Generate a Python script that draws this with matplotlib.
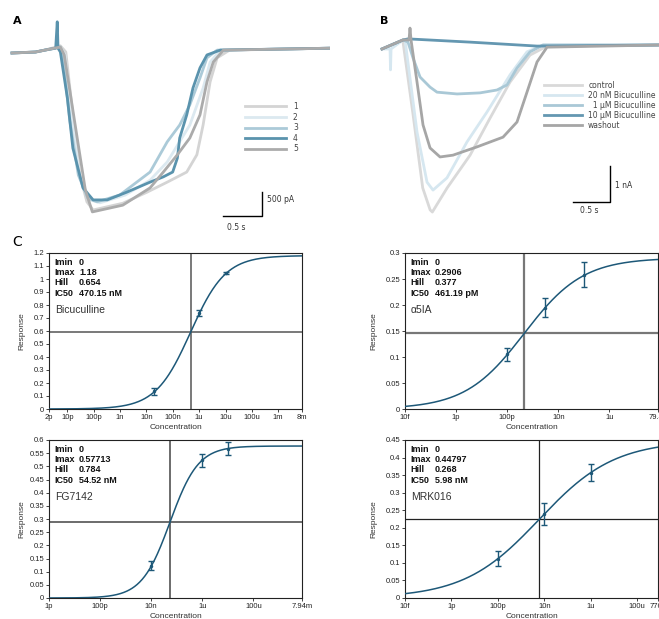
import numpy as np
import matplotlib
matplotlib.use('Agg')
import matplotlib.pyplot as plt
from matplotlib import font_manager
from matplotlib.ticker import FixedLocator, FixedFormatter, FuncFormatter

# ---------------- panel A : five repeats (t in s, I in pA)
a_labels = ['1', '2', '3', '4', '5']
a_colors = ['#d4d4d4', '#dce9f0', '#abcad8', '#5a93ad', '#ababab']

a1_t = [0, .30, .42, .62, .69, .78, .87, .96, 1.04, 1.42, 1.73, 1.99, 2.24, 2.37, 2.45, 2.54, 2.63, 2.79, 4.08]
a1_i = [0, 20, 60, 150, 20, -1290, -2540, -3100, -3270, -3130, -2900, -2690, -2480, -2120, -1500, -600, -100, 60, 100]
a2_t = [0, .30, .42, .62, .68, .77, .87, 1.00, 1.13, 1.45, 1.77, 1.99, 2.28, 2.45, 2.54, 2.67, 4.08]
a2_i = [0, 20, 60, 125, -40, -1400, -2600, -3060, -3120, -2960, -2650, -2270, -1500, -730, -190, 60, 100]
a3_t = [0, .30, .42, .62, .65, .74, .85, .97, 1.09, 1.38, 1.77, 1.99, 2.15, 2.28, 2.41, 2.50, 2.63, 4.08]
a3_i = [0, 20, 60, 125, -40, -1400, -2540, -3020, -3100, -2960, -2480, -1850, -1500, -1080, -520, -100, 60, 100]
a4_t = [0, .30, .42, .56, .58, .59, .62, .71, .78, .91, 1.04, 1.22, 1.47, 1.77, 1.94, 2.06, 2.12, 2.15, 2.24,
        2.32, 2.41, 2.50, 2.67, 4.08]
a4_i = [0, 20, 60, 100, 650, 100, 20, -940, -1980, -2810, -3060, -3060, -2900, -2690, -2580, -2480, -2190,
        -1770, -1290, -730, -310, -40, 60, 100]
a5_t = [0, .30, .42, .62, .67, .81, .94, 1.03, 1.42, 1.77, 1.94, 2.12, 2.28, 2.41, 2.50, 2.58, 2.71, 4.08]
a5_i = [0, 20, 60, 125, -40, -1500, -2850, -3310, -3170, -2810, -2480, -2120, -1770, -1290, -600, -190, 60, 100]

# ---------------- panel B : bicuculline series (t in s, I in nA)
b_labels = ['control', '20 nM Bicuculline', '\u20071 \u00b5M Bicuculline', '10 \u00b5M Bicuculline', 'washout']
b_colors = ['#d9d9d9', '#d6e7f0', '#a9c8d6', '#6497b1', '#a6a6a6']

b1_t = [0, .28, .42, .55, .65, .68, .88, 1.19, 1.46, 1.73, 2.0, 2.23, 3.74]
b1_i = [-.11, .14, -1.94, -3.97, -4.58, -4.64, -3.97, -3.06, -2.03, -1.03, -.28, -.03, 0]
b2_t = [0, .108, .115, .122, .284, .311, .473, .608, .689, .878, 1.149, 1.419, 1.730, 1.959, 2.176, 3.74]
b2_i = [-.11, -.11, -.69, -.11, .14, .14, -2.42, -3.81, -4.03, -3.69, -2.69, -1.86, -.83, -.19, 0, 0]
b3_t = [0, .284, .351, .419, .514, .649, .743, 1.014, 1.324, 1.554, 1.689, 1.824, 2.0, 2.176, 3.74]
b3_i = [-.11, .14, .08, -.36, -.89, -1.17, -1.31, -1.36, -1.33, -1.25, -1.11, -.64, -.19, 0, 0]
b4_t = [0, .284, .351, 1.189, 2.095, 3.74]
b4_i = [-.11, .14, .17, .08, -.03, 0]
b5_t = [0, .284, .365, .378, .392, .473, .554, .649, .784, .959, 1.284, 1.635, 1.824, 1.959, 2.095, 2.23, 3.74]
b5_i = [-.11, .14, .14, .47, .14, -1.03, -2.22, -2.86, -3.11, -3.06, -2.83, -2.56, -2.14, -1.31, -.47, -.06, 0]

# ---------------- panel C : dose response fits
c_names = ['Bicuculline', '\u03b15IA', 'FG7142', 'MRK016']
c_imin = [0, 0, 0, 0]
c_imax = [1.18, 0.2906, 0.57713, 0.44797]
c_hill = [0.654, 0.377, 0.784, 0.268]
c_ic50 = [470.15e-9, 461.19e-12, 54.52e-9, 5.98e-9]
c_imax_txt = ['1.18', '0.2906', '0.57713', '0.44797']
c_hill_txt = ['0.654', '0.377', '0.784', '0.268']
c_ic50_txt = ['470.15 nM', '461.19 pM', '54.52 nM', '5.98 nM']

c_px = [[20e-9, 1e-6, 10e-6], [100e-12, 3e-9, 100e-9], [10e-9, 1e-6, 10e-6], [100e-12, 10e-9, 1e-6]]
c_py = [[0.135, 0.738, 1.044], [0.105, 0.195, 0.258], [0.123, 0.523, 0.567], [0.1125, 0.239, 0.357]]
c_pe = [[0.03, 0.02, 0.008], [0.012, 0.0175, 0.024], [0.016, 0.025, 0.025], [0.022, 0.031, 0.024]]

c_xlim = [(2e-12, 8e-3), (1e-14, 7.94e-5), (1e-12, 7.94e-3), (1e-14, 7.76e-4)]
c_xticks = [[2e-12, 1e-11, 1e-10, 1e-9, 1e-8, 1e-7, 1e-6, 1e-5, 1e-4, 1e-3, 8e-3],
            [1e-14, 1e-12, 1e-10, 1e-8, 1e-6, 7.94e-5],
            [1e-12, 1e-10, 1e-8, 1e-6, 1e-4, 7.94e-3],
            [1e-14, 1e-12, 1e-10, 1e-8, 1e-6, 1e-4, 7.76e-4]]
c_xticklabels = [['2p', '10p', '100p', '1n', '10n', '100n', '1u', '10u', '100u', '1m', '8m'],
                 ['10f', '1p', '100p', '10n', '1u', '79.4u'],
                 ['1p', '100p', '10n', '1u', '100u', '7.94m'],
                 ['10f', '1p', '100p', '10n', '1u', '100u', '776u']]
c_ytop = [1.2, 0.3, 0.6, 0.45]
c_ystep = [0.1, 0.05, 0.05, 0.05]


def hill(x, imin, imax, h, ic50):
    return imin + (imax - imin) * x ** h / (x ** h + ic50 ** h)


names = {f.name for f in font_manager.fontManager.ttflist}
narrow = 'Liberation Sans Narrow' if 'Liberation Sans Narrow' in names else 'Liberation Sans'

W, H = 659.0, 619.0
fig = plt.figure(figsize=(W / 100, H / 100), dpi=100)

####### traces
tr = 'DejaVu Sans'

ax_a = fig.add_axes([0, 1 - 230 / H, 330 / W, 230 / H])
ax_a.set_xlim(-0.154, 4.077)
ax_a.set_ylim(-3687, 1104)
ax_a.axis('off')
for t, i, c, lab in zip([a1_t, a2_t, a3_t, a4_t, a5_t], [a1_i, a2_i, a3_i, a4_i, a5_i], a_colors, a_labels):
    ax_a.plot(t, i, color=c, lw=2.0, label=lab, solid_joinstyle='round')
ax_a.legend(loc='upper left', bbox_to_anchor=(0.742, 0.556), frameon=False, borderpad=0, borderaxespad=0,
            handlelength=5.4, handletextpad=0.9, labelspacing=0.2, prop={'family': tr, 'size': 5.5},
            labelcolor='#444444')
ax_a.plot([2.705, 3.205, 3.205], [-3395, -3395, -2895], color='k', lw=1.0)
ax_a.text(3.27, -3062, '500 pA', fontsize=5.5, family=tr, va='center', color='#333333')
ax_a.text(2.88, -3625, '0.5 s', fontsize=5.5, family=tr, va='center', ha='center', color='#333333')

ax_b = fig.add_axes([330 / W, 1 - 230 / H, 329 / W, 230 / H])
ax_b.set_xlim(-0.703, 3.743)
ax_b.set_ylim(-5.139, 1.25)
ax_b.axis('off')
for t, i, c, lab in zip([b1_t, b2_t, b3_t, b4_t, b5_t], [b1_i, b2_i, b3_i, b4_i, b5_i], b_colors, b_labels):
    ax_b.plot(t, i, color=c, lw=2.0, label=lab, solid_joinstyle='round')
ax_b.legend(loc='upper left', bbox_to_anchor=(0.650, 0.650), frameon=False, borderpad=0, borderaxespad=0,
            handlelength=5.0, handletextpad=0.8, labelspacing=0.15, prop={'family': tr, 'size': 5.5},
            labelcolor='#444444')
ax_b.plot([2.581, 3.081, 3.081], [-4.36, -4.36, -3.36], color='k', lw=1.0)
ax_b.text(3.15, -3.89, '1 nA', fontsize=5.5, family=tr, va='center', color='#333333')
ax_b.text(2.80, -4.61, '0.5 s', fontsize=5.5, family=tr, va='center', ha='center', color='#333333')

fig.text(13 / W, 1 - 21 / H, 'A', fontsize=8, weight='bold', family=tr, va='center')
fig.text(380 / W, 1 - 21 / H, 'B', fontsize=8, weight='bold', family=tr, va='center')
fig.text(12 / W, 1 - 242 / H, 'C', fontsize=10, family=tr, va='center')

####### dose response
boxes = [[49, 253, 253, 156], [405, 253, 253, 156], [49, 440, 253, 158], [405, 440, 253, 158]]
hl_w = [1.1, 1.6, 1.3, 0.9]
hl_c = ['#555555', '#777777', '#606060', '#222222']
curve_c = '#1d5878'

for k in range(4):
    l, t, w, h = boxes[k]
    ax = fig.add_axes([l / W, 1 - (t + h) / H, w / W, h / H])
    ax.set_xscale('log')
    x0, x1 = c_xlim[k]
    ax.set_xlim(x0, x1)
    ax.set_ylim(0, c_ytop[k])
    xs = np.logspace(np.log10(x0), np.log10(x1), 400)
    ax.plot(xs, hill(xs, c_imin[k], c_imax[k], c_hill[k], c_ic50[k]), color=curve_c, lw=1.1, zorder=3)
    ax.errorbar(c_px[k], c_py[k], yerr=c_pe[k], fmt='o', ms=1.5, color=curve_c, ecolor=curve_c,
                elinewidth=1.0, capsize=2.2, capthick=1.0, zorder=4)
    half = c_imin[k] + (c_imax[k] - c_imin[k]) / 2
    ax.axhline(half, color=hl_c[k], lw=hl_w[k], zorder=2)
    ax.axvline(c_ic50[k], color=hl_c[k], lw=hl_w[k], zorder=2)

    ax.xaxis.set_major_locator(FixedLocator(c_xticks[k]))
    ax.xaxis.set_major_formatter(FixedFormatter(c_xticklabels[k]))
    ax.xaxis.set_minor_locator(FixedLocator([]))
    yt = np.arange(0, c_ytop[k] + 1e-9, c_ystep[k])
    ax.set_yticks(yt)
    ax.yaxis.set_major_formatter(FuncFormatter(lambda v, p: '%g' % round(v, 3)))
    ax.tick_params(length=2.5, width=0.6, pad=1, labelsize=5.5, colors='#222222')
    for lab in ax.get_xticklabels() + ax.get_yticklabels():
        lab.set_family(narrow)
    for s in ax.spines.values():
        s.set_linewidth(0.8)
        s.set_color('#222222')

    ax.set_xlabel('Concentration', family=narrow, fontsize=6, color='#333333')
    ax.set_ylabel('Response', family=narrow, fontsize=6, color='#333333')
    ax.yaxis.set_label_coords(-0.095 if k % 2 == 0 else -0.11, 0.5)
    ax.xaxis.set_label_coords(0.5, -0.095)

    r0 = 1 - 9.5 / h
    dr = 10.2 / h
    rows = [('Imin', '0'), ('Imax', c_imax_txt[k]), ('Hill', c_hill_txt[k]), ('IC50', c_ic50_txt[k])]
    for j, (a, b) in enumerate(rows):
        ax.text(5 / w, r0 - j * dr, a, transform=ax.transAxes, family=narrow, weight='bold',
                fontsize=6.5, va='center', color='#111111')
        ax.text(30 / w, r0 - j * dr, b, transform=ax.transAxes, family=narrow, weight='bold',
                fontsize=6.5, va='center', color='#111111')
    ax.text(6 / w, 1 - 57 / h, c_names[k], transform=ax.transAxes, family='Liberation Sans',
            fontsize=7.5, va='center', color='#333333')

fig.savefig('out.png', dpi=100, facecolor='white')
